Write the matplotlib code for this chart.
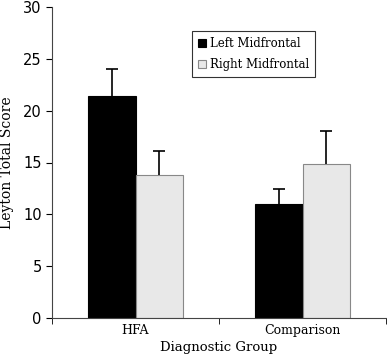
import matplotlib
matplotlib.use("Agg")
import matplotlib.pyplot as plt
import numpy as np

groups = ["HFA", "Comparison"]
left_vals = [21.4, 11.0]
left_err = [2.6, 1.4]
right_vals = [13.8, 14.9]
right_err = [2.3, 3.1]

fig = plt.figure(figsize=(3.87, 3.62), dpi=100)
ax = fig.add_axes([52/387, 1-318/362, 334/387, 311/362])

x = np.arange(len(groups))
w = 0.285
ax.bar(x - w/2, left_vals, w, color="black", edgecolor="black", linewidth=0.8,
       label="Left Midfrontal")
ax.bar(x + w/2, right_vals, w, color="#e8e8e8", edgecolor="#888888", linewidth=0.8,
       label="Right Midfrontal")
for xs, vals, errs in [(x - w/2, left_vals, left_err), (x + w/2, right_vals, right_err)]:
    eb = ax.errorbar(xs, vals, yerr=[np.zeros(2), errs], fmt="none",
                     ecolor="black", elinewidth=1.2, capsize=4, capthick=1.2)
    eb[1][0].set_visible(False)  # hide the lower caps

ax.set_xlim(-0.5, 1.5)
ax.set_ylim(0, 30)
ax.set_yticks(range(0, 31, 5))
ax.set_xticks(x)
ax.set_xticklabels(groups, fontfamily="DejaVu Serif", fontsize=9)
ax.set_xticks([-0.5, 0.5, 1.5], minor=True)
ax.tick_params(axis="x", which="major", length=0, pad=4)
ax.tick_params(axis="x", which="minor", length=4, direction="out")
ax.tick_params(axis="y", length=4, direction="out", labelsize=10.5)
for s in ["top", "right"]:
    ax.spines[s].set_visible(False)
for s in ["left", "bottom"]:
    ax.spines[s].set_color("#444444")

ax.set_ylabel("Leyton Total Score", fontfamily="DejaVu Serif", fontsize=10, labelpad=6)
ax.set_xlabel("Diagnostic Group", fontfamily="DejaVu Serif", fontsize=9.5, labelpad=3)

leg = ax.legend(loc="upper left", bbox_to_anchor=(140/334, 1 - 24/311),
                prop={"family": "DejaVu Serif", "size": 8.5},
                frameon=True, fancybox=False, edgecolor="black",
                handlelength=0.7, handleheight=0.7, handletextpad=0.3,
                borderpad=0.5, labelspacing=0.7, borderaxespad=0)
leg.get_frame().set_linewidth(0.8)

fig.savefig("out.png", dpi=100)
